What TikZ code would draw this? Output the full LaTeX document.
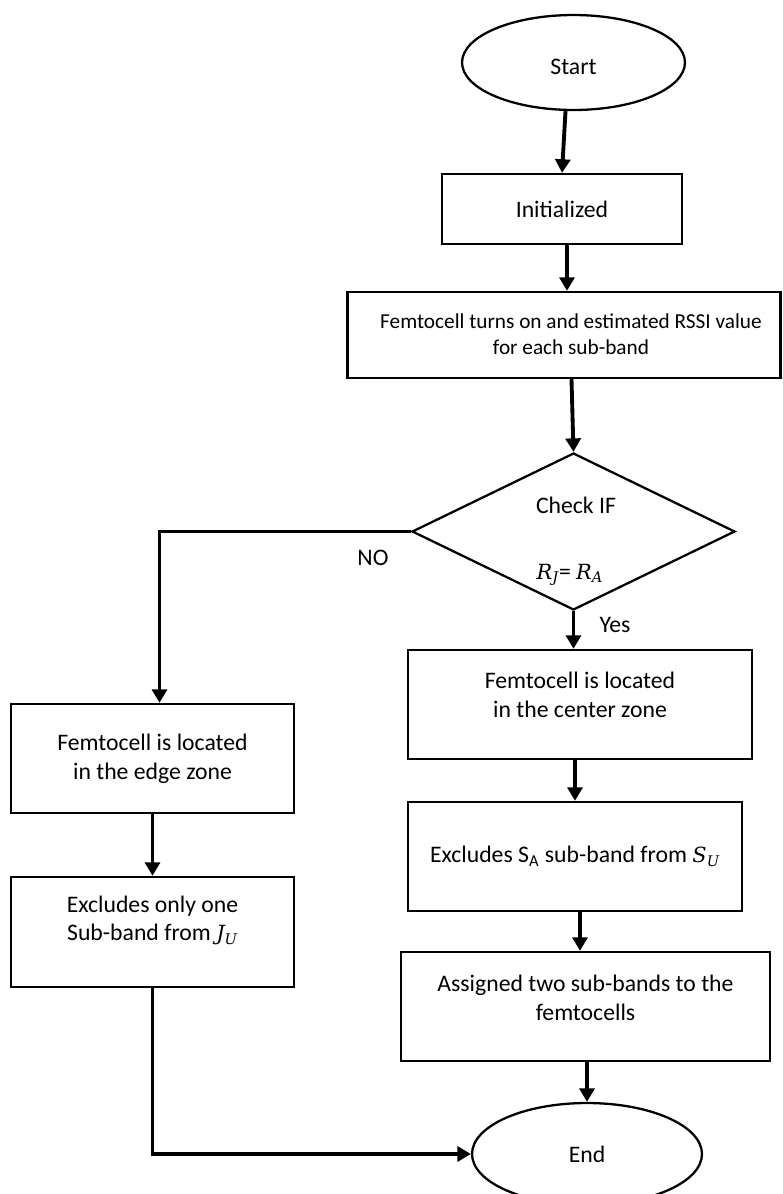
\documentclass[tikz,border=0pt]{standalone}
\usepackage{fontspec}
\setmainfont{Carlito}
\newfontfamily\symfont{DejaVu Serif}[Scale=0.88]
\newcommand\symvar[2]{{\symfont\itshape #1}\textsubscript{\symfont\itshape #2}}
\usetikzlibrary{shapes.geometric,arrows.meta}

\begin{document}
\begin{tikzpicture}[x=0.02cm, y=-0.02cm,
    every node/.style={font=\fontsize{13.5}{16.4}\selectfont, align=center},
    box/.style={draw, line width=1.4pt, inner sep=0pt},
    term/.style={draw, ellipse, line width=1.3pt, inner sep=0pt},
    test/.style={draw, diamond, line width=1.3pt, inner sep=0pt},
    flow/.style={line width=2.2pt, -{Triangle[width=0.3cm,length=0.27cm]}}]
    \useasboundingbox (0,0) rectangle (782,1194);

    \node[term, minimum width=4.46cm, minimum height=1.9cm] (start) at (573.5,62.5) {};
    \node (starttext) at (573.5,67) {Start};
    \node[box, minimum width=4.8cm, minimum height=1.4cm] (init) at (562,209) {Initialized};
    \node[box, minimum width=8.66cm, minimum height=1.72cm] (rssi) at (564,335) {};
    \node[font=\fontsize{12.1}{14.6}\selectfont] (rssitext) at (571,334) {Femtocell turns on and estimated RSSI value\\for each sub-band};
    \node[test, minimum width=6.46cm, minimum height=3.14cm] (check) at (573.5,531.5) {};
    \node (checktext) at (576,505) {Check IF};
    \node (cond) at (570,575) {\symvar{R}{J}= \symvar{R}{A}};

    % right branch
    \node[box, minimum width=6.88cm, minimum height=2.18cm] (center) at (580,704.5) {};
    \node (centertext) at (580,695) {Femtocell is located\\in the center zone};
    \node[box, minimum width=6.68cm, minimum height=2.18cm] (exclS) at (575,856.5) {Excludes S\textsubscript{A} sub-band from \symvar{S}{U}};
    \node[box, minimum width=7.38cm, minimum height=2.18cm] (assign) at (585.5,1006.5) {};
    \node (assigntext) at (585.5,997.5) {Assigned two sub-bands to the\\femtocells};
    \node[term, minimum width=4.6cm, minimum height=2.04cm] (end) at (587,1154) {End};

    % left branch
    \node[box, minimum width=5.66cm, minimum height=2.18cm] (edge) at (152.5,758.5) {Femtocell is located\\in the edge zone};
    \node[box, minimum width=5.66cm, minimum height=2.2cm] (exclJ) at (152.5,932) {};
    \node (exclJtext) at (152.5,920.5) {Excludes only one\\Sub-band from \symvar{J}{U}};

    \draw[flow] ([xshift=-0.16cm]start.south) -- (init.north);
    \draw[flow] ([xshift=0.1cm]init.south) -- ([xshift=0.1cm]init.south |- rssi.north);
    \draw[flow] ([xshift=-0.04cm]check.north |- rssi.south) -- (check.north);
    \draw[flow] (check.south) -- (check.south |- center.north);
    \draw[flow] (exclS.north |- center.south) -- (exclS.north);
    \draw[flow] ([xshift=0.1cm]exclS.south) -- ([xshift=0.1cm]exclS.south |- assign.north);
    \draw[flow] (end.north |- assign.south) -- (end.north);
    \draw[flow] (check.west) -| ([xshift=0.14cm]edge.north);
    \draw[flow] (edge.south) -- (exclJ.north);
    \draw[flow] (exclJ.south) |- (end.west);

    \node (no) at (373,558) {NO};
    \node (yes) at (615,625) {Yes};
  \end{tikzpicture}
\end{document}
